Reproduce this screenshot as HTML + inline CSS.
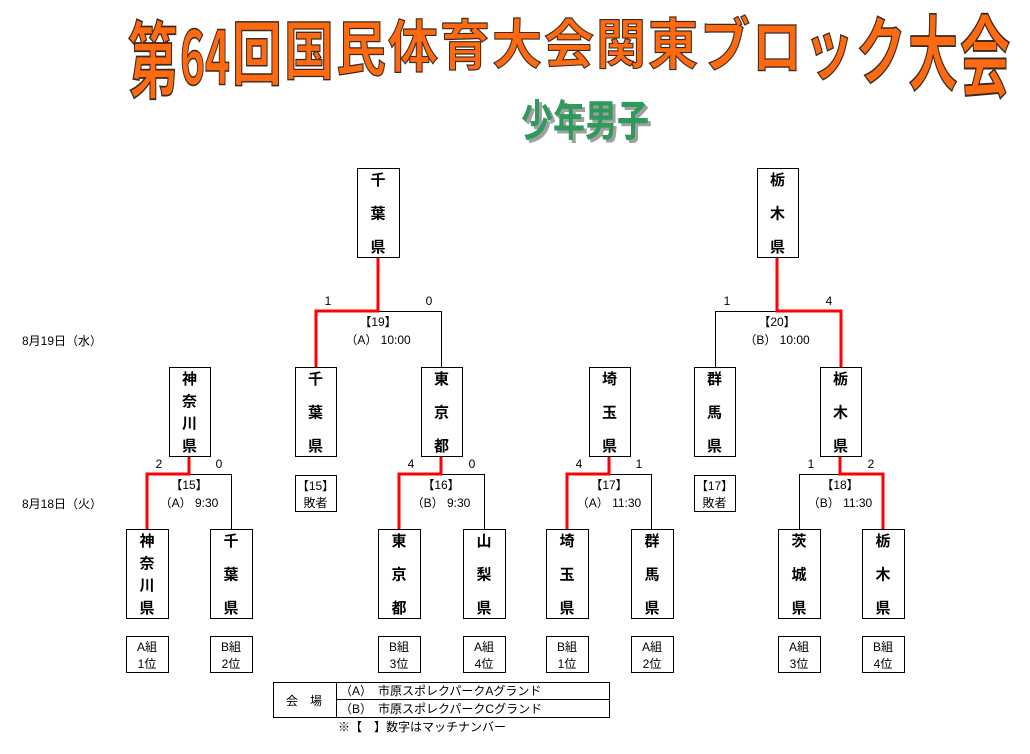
<!DOCTYPE html>
<html><head><meta charset="utf-8"><style>
html,body{margin:0;padding:0;background:#fff;}
svg{display:block;font-family:"Liberation Sans","Noto Sans CJK JP",sans-serif;}
</style></head><body>
<svg width="1030" height="754" viewBox="0 0 1030 754" xmlns="http://www.w3.org/2000/svg">
<g id="title" font-family="'Noto Sans CJK JP',sans-serif" font-weight="bold" fill="#ff6a10" stroke="#3a2a20" stroke-width="1"></g>
<g font-family="'Noto Sans CJK JP',sans-serif" font-weight="bold" font-size="32">
<text x="0" y="0" fill="#a0a0a0" transform="translate(524,139) scale(1,1.35)">少年男子</text>
<text x="0" y="0" fill="#2e9a5c" transform="translate(521,136) scale(1,1.35)">少年男子</text>
</g>
<g id="d" stroke="#000" fill="none" stroke-width="1"></g>
<g id="t" font-size="12" fill="#000"></g>
</svg>
<script>
const NS="http://www.w3.org/2000/svg";
const T=document.getElementById('title');
const chars=["第","64","回","国","民","体","育","大","会","関","東","ブ","ロ","ッ","ク","大","会"];
chars.forEach((c,i)=>{
 const cx=128+52*i;
 const top=23-6*i/16;
 const bot=73+34*Math.pow((i-8)/8,2);
 const h=bot-top;
 const s=h/48;
 const el=document.createElementNS(NS,'text');
 el.setAttribute('x',0);el.setAttribute('y',42);el.setAttribute('font-size',48);
 el.setAttribute('textLength',50);el.setAttribute('lengthAdjust','spacingAndGlyphs');
 el.setAttribute('transform',`translate(${cx},${top-3*s}) scale(1,${s})`);
 el.textContent=c;T.appendChild(el);
});
const D=document.getElementById('d'),X=document.getElementById('t');
function rect(x1,y1,x2,y2){const r=document.createElementNS(NS,'rect');r.setAttribute('x',x1+.5);r.setAttribute('y',y1+.5);r.setAttribute('width',x2-x1);r.setAttribute('height',y2-y1);D.appendChild(r);}
function line(pts,red){const p=document.createElementNS(NS,'polyline');p.setAttribute('points',pts.map(a=>a.join(',')).join(' '));if(red){p.setAttribute('stroke','#ff0000');p.setAttribute('stroke-width','3');}else{p.setAttribute('transform','translate(.5,.5)');}D.appendChild(p);}
function txt(x,y,s,opt={}){const e=document.createElementNS(NS,'text');e.setAttribute('x',x);e.setAttribute('y',y);e.setAttribute('text-anchor',opt.a||'middle');if(opt.b)e.setAttribute('font-weight','bold');if(opt.fs)e.setAttribute('font-size',opt.fs);e.textContent=s;X.appendChild(e);}
function tall(x1,y1,x2,y2,name){rect(x1,y1,x2,y2);const cx=(x1+x2)/2;const n=name.length;const fs=15;
 for(let i=0;i<n;i++){const cy=y1+11+(y2-y1-22)*(n==1?0:i/(n-1));txt(cx,cy+6,name[i],{b:1,fs:fs});}}
function small(x1,y1,x2,y2,a,b){rect(x1,y1,x2,y2);const cx=(x1+x2)/2;txt(cx,y1+15,a);txt(cx,y1+32,b);}
tall(357,168,399,257,"千葉県");tall(757,168,798,257,"栃木県");
[[169,210,"神奈川県"],[295,336,"千葉県"],[421,462,"東京都"],[589,630,"埼玉県"],[694,735,"群馬県"],[820,861,"栃木県"]].forEach(b=>tall(b[0],367,b[1],456,b[2]));
small(295,475,336,511,"【15】","敗者");small(694,475,735,511,"【17】","敗者");
const bot=[[126,168,"神奈川県","A組","1位"],[210,252,"千葉県","B組","2位"],[378,420,"東京都","B組","3位"],[463,505,"山梨県","A組","4位"],[546,588,"埼玉県","B組","1位"],[631,673,"群馬県","A組","2位"],[778,820,"茨城県","A組","3位"],[862,904,"栃木県","B組","4位"]];
bot.forEach(b=>{tall(b[0],529,b[1],618,b[2]);small(b[0],636,b[1],672,b[3],b[4]);});
function match(l,r,top,yb,c,redLeft,sl,sr,no,info,ytop){
 line([[l,yb],[l,top],[r,top],[r,yb]],false);
 if(redLeft)line([[l,yb],[l,top],[c,top],[c,ytop]],true);else line([[r,yb],[r,top],[c,top],[c,ytop]],true);
 txt(l+12,top-6,sl);txt(r-12,top-6,sr);
 txt(c,top+15,no);txt(c,top+33,info);
}
match(147,231,474,529,189,true,"2","0","【15】","（A）  9:30",457);
match(399,484,474,529,441,true,"4","0","【16】","（B）  9:30",457);
match(567,651,474,529,609,true,"4","1","【17】","（A）  11:30",457);
match(799,883,474,529,840,false,"1","2","【18】","（B）  11:30",457);
match(316,441,311,367,378,true,"1","0","【19】","（A）  10:00",258);
match(715,841,311,367,777,false,"1","4","【20】","（B）  10:00",258);
txt(22,345,"8月19日（水）",{a:'start'});txt(22,508,"8月18日（火）",{a:'start'});
rect(273,682,609,717);line([[336,682],[336,717]]);line([[336,699],[609,699]]);
txt(304,705,"会　場");
txt(340,695,"（A）　市原スポレクパークAグランド",{a:'start'});
txt(340,713,"（B）　市原スポレクパークCグランド",{a:'start'});
txt(338,731,"※【　】数字はマッチナンバー",{a:'start'});
</script>
</body></html>
